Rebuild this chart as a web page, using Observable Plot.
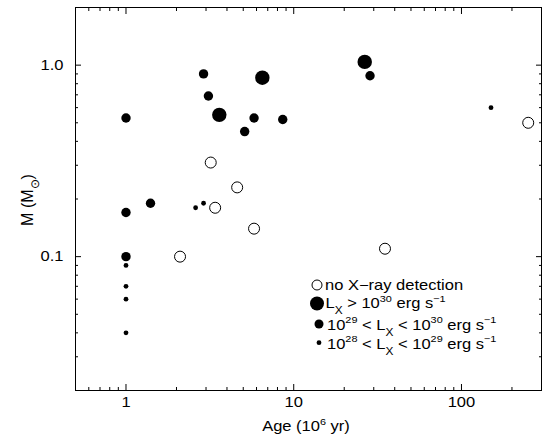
<!DOCTYPE html>
<html>
<head>
<meta charset="utf-8">
<script src="https://cdn.jsdelivr.net/npm/d3@7"></script>
<script src="https://cdn.jsdelivr.net/npm/@observablehq/plot@0.6"></script>
<style>
  html, body { margin: 0; padding: 0; background: white; }
  svg { display: block; }
</style>
</head>
<body>
<div id="chart"></div>
<script>
// Age (10^6 yr) and mass (Msun) per X-ray class
const noneAge = [3.2, 4.6, 3.4, 5.8, 2.1, 35, 250];
const noneMass = [0.31, 0.23, 0.18, 0.14, 0.10, 0.11, 0.50];
const highAge = [6.5, 3.6, 26.5];
const highMass = [0.86, 0.55, 1.04];
const midAge = [1, 2.9, 3.1, 5.8, 5.1, 1.4, 1, 8.6, 28.5, 1];
const midMass = [0.53, 0.90, 0.69, 0.53, 0.45, 0.19, 0.17, 0.52, 0.88, 0.10];
const lowAge = [2.6, 2.9, 150, 1, 1, 1, 1];
const lowMass = [0.18, 0.19, 0.60, 0.09, 0.07, 0.06, 0.04];

const xMajor = [1, 10, 100];
const xMinor = [0.6, 0.7, 0.8, 0.9, 2, 3, 4, 5, 6, 7, 8, 9, 20, 30, 40, 50, 60, 70, 80, 90, 200];
const yMajor = [0.1, 1];
const yMinor = [0.03, 0.04, 0.05, 0.06, 0.07, 0.08, 0.09, 0.2, 0.3, 0.4, 0.5, 0.6, 0.7, 0.8, 0.9];

const legendLabels = [
  [["no X\u2212ray detection", null]],
  [["L", null], ["X", "sub"], [" > 10", null], ["30", "sup"], [" erg s", null], ["\u22121", "sup"]],
  [["10", null], ["29", "sup"], [" < L", null], ["X", "sub"], [" < 10", null], ["30", "sup"], [" erg s", null], ["\u22121", "sup"]],
  [["10", null], ["28", "sup"], [" < L", null], ["X", "sub"], [" < 10", null], ["29", "sup"], [" erg s", null], ["\u22121", "sup"]]
];

const pts = (ages, masses) => ages.map((a, i) => ({age: a, mass: masses[i]}));
const empty = () => "";

const FONT = "'Liberation Sans', Arial, Helvetica, sans-serif";
const STRETCH = 1.18;

const chart = Plot.plot({
  width: 552,
  height: 439,
  marginLeft: 75,
  marginRight: 11,
  marginTop: 7,
  marginBottom: 49,
  style: {fontFamily: FONT, fontSize: "14px", color: "black", background: "white", overflow: "visible"},
  x: {type: "log", domain: [0.5, 300]},
  y: {type: "log", domain: [0.02, 2]},
  marks: [
    Plot.axisX(xMajor, {anchor: "bottom", tickSize: -6, tickFormat: empty, label: null}),
    Plot.axisX(xMinor, {anchor: "bottom", tickSize: -3, tickFormat: empty, label: null}),
    Plot.axisX(xMajor, {anchor: "top", tickSize: -6, tickFormat: empty, label: null}),
    Plot.axisX(xMinor, {anchor: "top", tickSize: -3, tickFormat: empty, label: null}),
    Plot.axisX(xMajor, {anchor: "bottom", tickSize: 0, tickPadding: 7, tickFormat: d => String(d), label: null, fontSize: 14}),
    Plot.axisY(yMajor, {anchor: "left", tickSize: -6, tickFormat: empty, label: null}),
    Plot.axisY(yMinor, {anchor: "left", tickSize: -3, tickFormat: empty, label: null}),
    Plot.axisY(yMajor, {anchor: "right", tickSize: -6, tickFormat: empty, label: null}),
    Plot.axisY(yMinor, {anchor: "right", tickSize: -3, tickFormat: empty, label: null}),
    Plot.axisY(yMajor, {anchor: "left", tickSize: 0, tickPadding: 12, tickFormat: d => d.toFixed(1), label: null, fontSize: 14}),
    Plot.frame({stroke: "black", strokeWidth: 1}),
    Plot.dot(pts(noneAge, noneMass), {x: "age", y: "mass", r: 5.5, stroke: "black", strokeWidth: 1, fill: "white"}),
    Plot.dot(pts(highAge, highMass), {x: "age", y: "mass", r: 7.2, fill: "black", stroke: "none"}),
    Plot.dot(pts(midAge, midMass), {x: "age", y: "mass", r: 4.7, fill: "black", stroke: "none"}),
    Plot.dot(pts(lowAge, lowMass), {x: "age", y: "mass", r: 2.4, fill: "black", stroke: "none"})
  ]
});

document.getElementById("chart").appendChild(chart);

const svg = d3.select(chart);

// Horizontally stretch tick labels (reference type is slightly wide)
svg.selectAll('g[aria-label$="tick label"] text').each(function () {
  const el = d3.select(this);
  if (!el.text()) return;
  const tr = el.attr("transform") || "";
  el.attr("transform", `${tr} scale(${STRETCH},1)`);
});

function rich(sel, parts, size) {
  let shift = 0;
  parts.forEach(([s, mode]) => {
    const t = sel.append("tspan").text(s);
    let target = 0;
    if (mode === "sup") { target = -6.5; t.attr("font-size", size * 0.66); }
    else if (mode === "sub") { target = 6; t.attr("font-size", size * 0.72); }
    else { t.attr("font-size", size); }
    if (target !== shift) { t.attr("dy", target - shift); shift = target; }
  });
}

// Legend
const legend = svg.append("g").attr("font-family", FONT).attr("fill", "black").attr("text-anchor", "start");
const legSym = [
  {cx: 317, cy: 285, r: 5, open: true},
  {cx: 317, cy: 303.5, r: 7, open: false},
  {cx: 319, cy: 324, r: 4.5, open: false},
  {cx: 319, cy: 342.7, r: 2.4, open: false}
];
const legText = [
  {x: 325, y: 289.5},
  {x: 325.5, y: 308},
  {x: 327, y: 329.5},
  {x: 327, y: 348.5}
];
legSym.forEach((s, i) => {
  legend.append("circle").attr("cx", s.cx).attr("cy", s.cy).attr("r", s.r)
    .attr("fill", s.open ? "white" : "black").attr("stroke", s.open ? "black" : "none");
  const t = legend.append("text").attr("text-anchor", "start")
    .attr("transform", `translate(${legText[i].x},${legText[i].y}) scale(${STRETCH},1)`);
  rich(t, legendLabels[i], 14);
});

// Axis titles
const xt = svg.append("text").attr("text-anchor", "middle")
  .attr("transform", `translate(306,431) scale(${STRETCH},1)`)
  .attr("font-family", FONT).attr("fill", "black");
rich(xt, [["Age (10", null], ["6", "sup"], [" yr)", null]], 14);

const yt = svg.append("text").attr("transform", "translate(33,200) rotate(-90)").attr("text-anchor", "middle")
  .attr("font-family", FONT).attr("fill", "black");
rich(yt, [["M (M", null], ["\u2299", "sub"], [")", null]], 16);
</script>
</body>
</html>
